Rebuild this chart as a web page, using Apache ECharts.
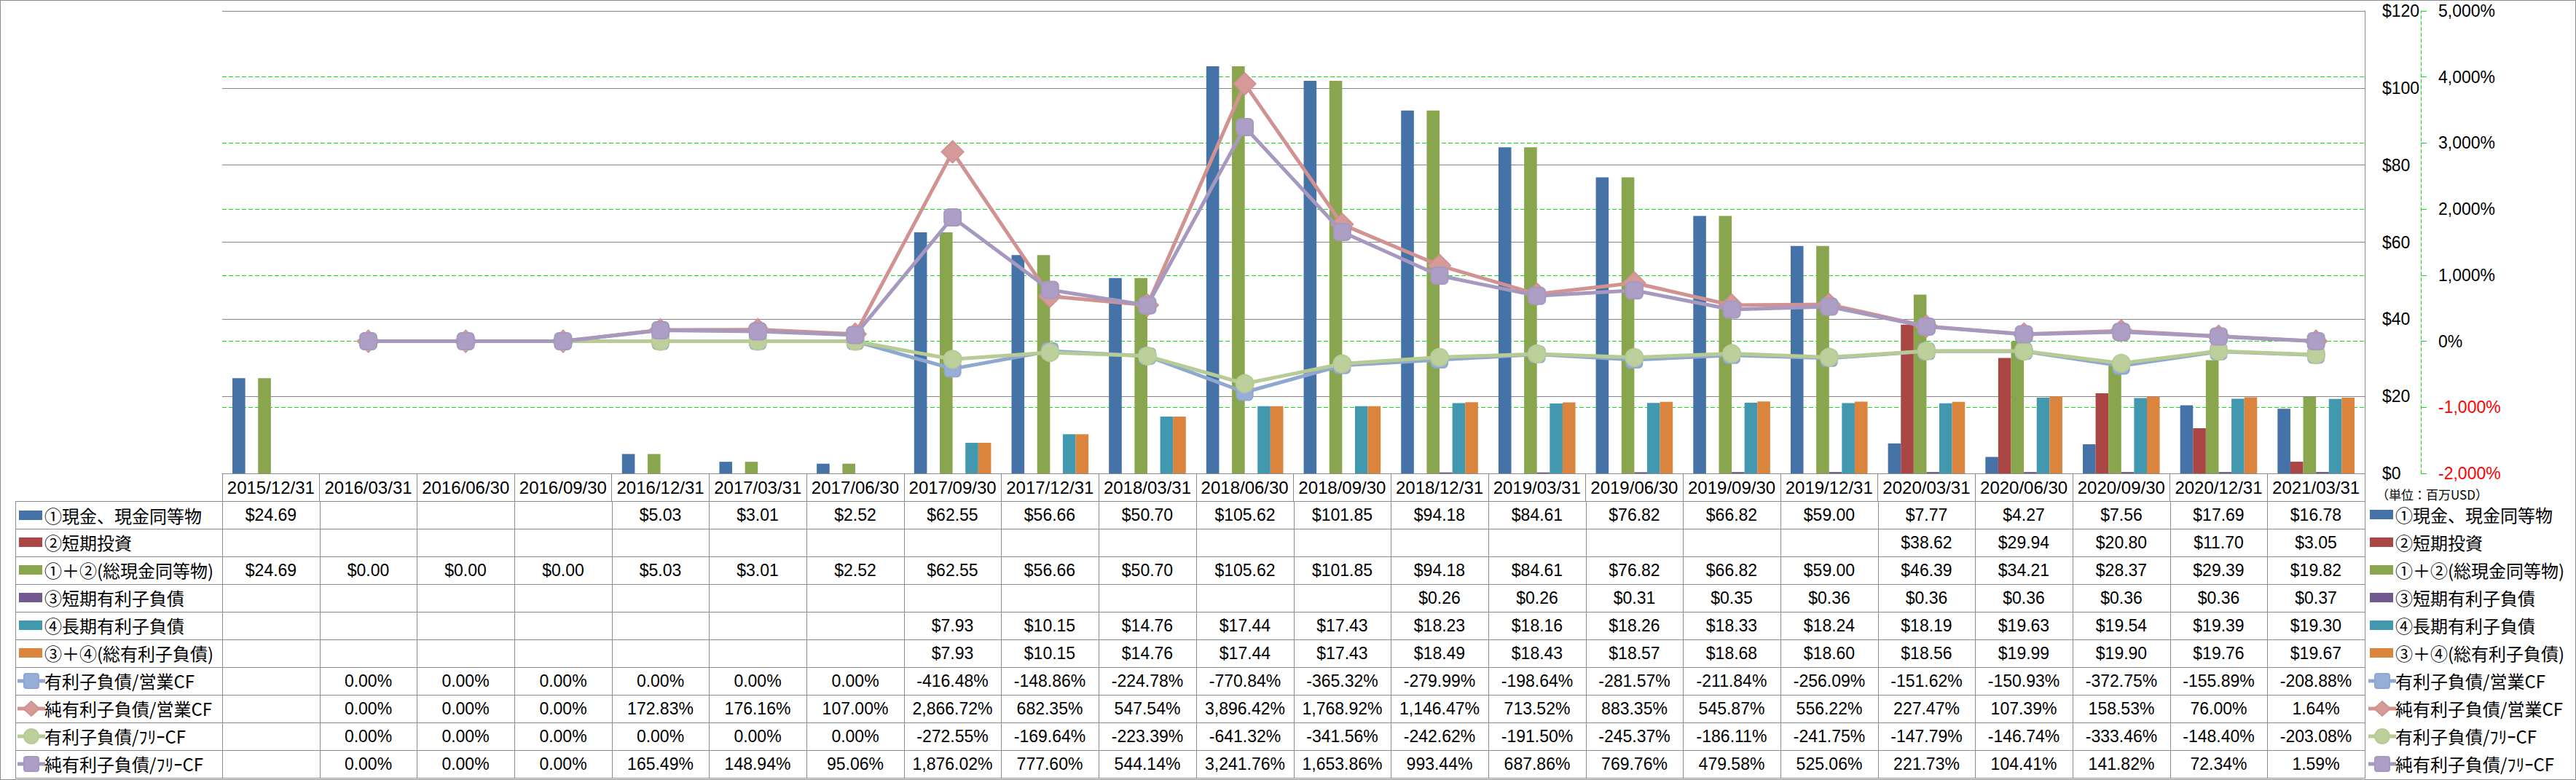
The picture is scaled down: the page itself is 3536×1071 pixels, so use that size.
<!DOCTYPE html>
<html>
<head>
<meta charset="utf-8">
<script src="https://cdn.jsdelivr.net/npm/echarts/dist/echarts.min.js"></script>
<style>
  html, body { margin:0; padding:0; background:#fff; }
  body { width:3536px; height:1071px; position:relative; overflow:hidden;
         font-family:"Liberation Sans","Noto Sans CJK JP",sans-serif; color:#000; }
  #chart { position:absolute; left:0; top:0; width:3536px; height:1071px; }
  #overlay { position:absolute; left:0; top:0; width:3536px; height:1071px; pointer-events:none; }
  #frame { position:absolute; left:0; top:0; width:3534px; height:1069px; border:1px solid #8c8c8c; pointer-events:none; }
  .cell { position:absolute; box-sizing:border-box; border-right:1px solid #8c8c8c; border-bottom:1px solid #8c8c8c;
          display:flex; align-items:center; justify-content:center; font-size:23px; white-space:nowrap; }
  .lab { justify-content:flex-start; font-family:"Noto Sans CJK JP","Liberation Sans",sans-serif; font-size:24px; }
  .lgtxt { position:absolute; font-family:"Noto Sans CJK JP","Liberation Sans",sans-serif; font-size:24px; white-space:nowrap; line-height:38px; }
</style>
</head>
<body>
<div id="chart"></div>
<div id="overlay"></div>
<div id="frame"></div>
<script>
// ---------- data ----------
const categories = ["2015/12/31","2016/03/31","2016/06/30","2016/09/30","2016/12/31","2017/03/31","2017/06/30",
  "2017/09/30","2017/12/31","2018/03/31","2018/06/30","2018/09/30","2018/12/31","2019/03/31","2019/06/30",
  "2019/09/30","2019/12/31","2020/03/31","2020/06/30","2020/09/30","2020/12/31","2021/03/31"];

const cashEq      = [24.69,null,null,null,5.03,3.01,2.52,62.55,56.66,50.70,105.62,101.85,94.18,84.61,76.82,66.82,59.00,7.77,4.27,7.56,17.69,16.78];
const shortInv    = [null,null,null,null,null,null,null,null,null,null,null,null,null,null,null,null,null,38.62,29.94,20.80,11.70,3.05];
const totalCash   = [24.69,0.00,0.00,0.00,5.03,3.01,2.52,62.55,56.66,50.70,105.62,101.85,94.18,84.61,76.82,66.82,59.00,46.39,34.21,28.37,29.39,19.82];
const shortDebt   = [null,null,null,null,null,null,null,null,null,null,null,null,0.26,0.26,0.31,0.35,0.36,0.36,0.36,0.36,0.36,0.37];
const longDebt    = [null,null,null,null,null,null,null,7.93,10.15,14.76,17.44,17.43,18.23,18.16,18.26,18.33,18.24,18.19,19.63,19.54,19.39,19.30];
const totalDebt   = [null,null,null,null,null,null,null,7.93,10.15,14.76,17.44,17.43,18.49,18.43,18.57,18.68,18.60,18.56,19.99,19.90,19.76,19.67];
const debtOpCF    = [null,0,0,0,0,0,0,-416.48,-148.86,-224.78,-770.84,-365.32,-279.99,-198.64,-281.57,-211.84,-256.09,-151.62,-150.93,-372.75,-155.89,-208.88];
const netDebtOpCF = [null,0,0,0,172.83,176.16,107.00,2866.72,682.35,547.54,3896.42,1768.92,1146.47,713.52,883.35,545.87,556.22,227.47,107.39,158.53,76.00,1.64];
const debtFCF     = [null,0,0,0,0,0,0,-272.55,-169.64,-223.39,-641.32,-341.56,-242.62,-191.50,-245.37,-186.11,-241.75,-147.79,-146.74,-333.46,-148.40,-203.08];
const netDebtFCF  = [null,0,0,0,165.49,148.94,95.06,1876.02,777.60,544.14,3241.76,1653.86,993.44,687.86,769.76,479.58,525.06,221.73,104.41,141.82,72.34,1.59];

const seriesNames = ["①現金、現金同等物","②短期投資","①＋②(総現金同等物)","③短期有利子負債","④長期有利子負債","③＋④(総有利子負債)",
  "有利子負債/営業CF","純有利子負債/営業CF","有利子負債/ﾌﾘｰCF","純有利子負債/ﾌﾘｰCF"];
const seriesData = [cashEq, shortInv, totalCash, shortDebt, longDebt, totalDebt, debtOpCF, netDebtOpCF, debtFCF, netDebtFCF];

const moneyTicks = [0, 120, 20];       // min, max, interval
const pctTicks   = [-2000, 5000, 1000];
const unitLabel  = "（単位：百万USD）";

// ---------- styles ----------
const barColors  = ["#4572A7","#AA4643","#89A54E","#71588F","#4198AF","#DB843D"];
const lineColors = ["#8FA8D0","#D19391","#B7CB95","#A698BF"];
const markFill   = ["#97AFD6","#D69A98","#BDD09C","#AC9EC4"];
const markShape  = ["roundRect","diamond","circle","roundRect"];
const markSize   = [22, 30, 24, 23];

const L = 305, R = 3246, T = 15, B = 650;
const ROW_H = 38, TABLE_L = 21;
const FONT = '"Liberation Sans","Noto Sans CJK JP",sans-serif';

// ---------- chart ----------
const chart = echarts.init(document.getElementById('chart'), null, {renderer:'svg'});
const series = [];
for (let i = 0; i < 6; i++) {
  series.push({
    name: seriesNames[i], type:'bar', yAxisIndex:0, data: seriesData[i],
    barGap:'0%', barCategoryGap:'21%',
    itemStyle:{ color: barColors[i] }, z:2, animation:false
  });
}
for (let j = 0; j < 4; j++) {
  series.push({
    name: seriesNames[6+j], type:'line', yAxisIndex:1, data: seriesData[6+j],
    symbol: markShape[j], symbolSize: markSize[j], showAllSymbol:true,
    lineStyle:{ color: lineColors[j], width:5 },
    itemStyle:{ color: markFill[j], borderColor: lineColors[j], borderWidth:2 },
    z: 3 + j, animation:false
  });
}

chart.setOption({
  backgroundColor:'transparent',
  animation:false,
  grid:{ left:L, top:T, width:R-L, height:B-T, containLabel:false },
  xAxis:{
    type:'category', data:categories, boundaryGap:true,
    axisLine:{ show:true, lineStyle:{ color:'#8c8c8c', width:1 } },
    axisTick:{ show:true, interval:0, alignWithLabel:false, length:38, lineStyle:{ color:'#8c8c8c', width:1 } },
    axisLabel:{ interval:0, margin:7, fontSize:24, lineHeight:24, color:'#000', fontFamily:FONT },
    splitLine:{ show:false }
  },
  yAxis:[
    { type:'value', position:'right', min:moneyTicks[0], max:moneyTicks[1], interval:moneyTicks[2],
      axisLine:{ show:true, lineStyle:{ color:'#8c8c8c', width:1 } },
      axisTick:{ show:false },
      axisLabel:{ margin:24, fontSize:23, color:'#000', fontFamily:FONT, formatter: v => '$' + v },
      splitLine:{ show:true, lineStyle:{ color:'#868686', width:1 } } },
    { type:'value', position:'right', offset:77, min:pctTicks[0], max:pctTicks[1], interval:pctTicks[2],
      axisLine:{ show:true, lineStyle:{ color:'#10e010', width:1, type:[5,3] } },
      axisTick:{ show:true, length:8, lineStyle:{ color:'#10e010', width:1 } },
      axisLabel:{ margin:24, fontSize:23, fontFamily:FONT,
        color: v => (Number(v) < 0 ? '#ff0000' : '#000'),
        formatter: v => v.toLocaleString('en-US') + '%' },
      splitLine:{ show:true, showMinLine:false, showMaxLine:false, lineStyle:{ color:'#10e010', width:1, type:[6,3] } } }
  ],
  legend:{ show:false },
  series: series
});

// ---------- data table & legend (HTML) ----------
const ov = document.getElementById('overlay');
const colW = (R - L) / categories.length;
function xAt(i){ return Math.round(L + i * colW); }

function keyHTML(idx){
  if (idx < 6) {
    return '<div style="position:absolute;left:0;top:12px;width:32px;height:13px;background:' + barColors[idx] + '"></div>';
  }
  const j = idx - 6, c = lineColors[j], f = markFill[j];
  let m;
  if (markShape[j] === 'diamond') m = '<polygon points="19,2 30,12 19,22 8,12" fill="'+f+'" stroke="'+c+'" stroke-width="2"/>';
  else if (markShape[j] === 'circle') m = '<circle cx="19" cy="12" r="10" fill="'+f+'" stroke="'+c+'" stroke-width="2"/>';
  else m = '<rect x="9" y="2" width="20" height="20" rx="3" fill="'+f+'" stroke="'+c+'" stroke-width="2"/>';
  return '<svg style="position:absolute;left:-2px;top:7px" width="40" height="24"><line x1="0" y1="12" x2="38" y2="12" stroke="'+c+'" stroke-width="5"/>'+m+'</svg>';
}

function fmt(idx, v){
  if (v === null || v === undefined) return '';
  if (idx < 6) return '$' + v.toFixed(2);
  return v.toLocaleString('en-US',{minimumFractionDigits:2, maximumFractionDigits:2}) + '%';
}

let html = '';
// table outer left/top border
html += '<div style="position:absolute;left:'+TABLE_L+'px;top:'+B+'px;width:1px;height:0"></div>';
for (let r = 0; r < seriesNames.length; r++) {
  const top = 688 + r * ROW_H;
  // label cell
  html += '<div class="cell lab" style="left:'+TABLE_L+'px;top:'+top+'px;width:'+(L-TABLE_L+1)+'px;height:'+(ROW_H+1)+'px;border-left:1px solid #8c8c8c;'+(r===0?'border-top:1px solid #8c8c8c;':'')+'">'
        + '<div style="position:absolute;left:4px;top:0;width:40px;height:38px">' + keyHTML(r) + '</div>'
        + '<span style="position:absolute;left:39px;line-height:38px;top:0">' + seriesNames[r] + '</span></div>';
  for (let i = 0; i < categories.length; i++) {
    const x0 = xAt(i), x1 = xAt(i+1);
    html += '<div class="cell" style="left:'+x0+'px;top:'+top+'px;width:'+(x1-x0+1)+'px;height:'+(ROW_H+1)+'px;'+(r===0?'border-top:1px solid #8c8c8c;':'')+'">' + fmt(r, seriesData[r][i]) + '</div>';
  }
  // right legend
  html += '<div style="position:absolute;left:3253px;top:'+top+'px;width:40px;height:38px">' + keyHTML(r) + '</div>';
  html += '<div class="lgtxt" style="left:3288px;top:'+top+'px">' + seriesNames[r] + '</div>';
}
html += '<div style="position:absolute;left:3262px;top:666px;font-family:\'Noto Sans CJK JP\',sans-serif;font-size:17px;line-height:26px;white-space:nowrap">' + unitLabel + '</div>';
ov.innerHTML = html;
</script>
</body>
</html>
